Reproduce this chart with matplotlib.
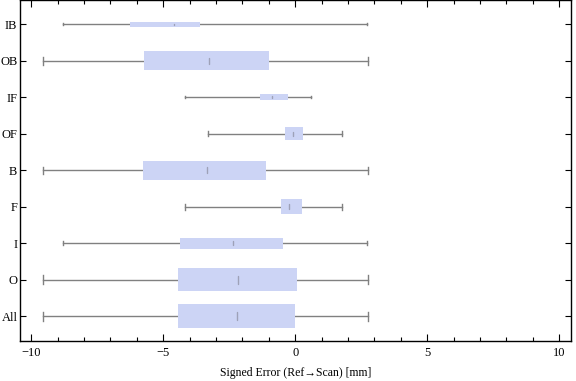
import matplotlib
matplotlib.use("Agg")
import matplotlib.pyplot as plt
from matplotlib.patches import Rectangle

plt.rcParams['font.family'] = ['Liberation Serif', 'DejaVu Serif']

categories = ["All", "O", "I", "F", "B", "OF", "IF", "OB", "IB"]
whisker_min = [-9.57, -9.57, -8.78, -4.19, -9.57, -3.31, -4.19, -9.57, -8.78]
q1 = [-4.43, -4.43, -4.36, -0.53, -5.76, -0.38, -1.33, -5.72, -6.25]
median = [-2.19, -2.16, -2.36, -0.24, -3.35, -0.09, -0.87, -3.25, -4.58]
q3 = [0.00, 0.08, -0.45, 0.27, -1.11, 0.30, -0.27, -1.00, -3.60]
whisker_max = [2.74, 2.74, 2.71, 1.78, 2.74, 1.78, 0.61, 2.74, 2.71]
# relative box widths (Mathematica scales these by sample size)
box_weight = [0.66, 0.63, 0.30, 0.41, 0.52, 0.36, 0.16, 0.52, 0.14]

xticks = [-10, -5, 0, 5, 10]

fig = plt.figure(figsize=(5.76, 3.81), dpi=100)
ax = fig.add_axes([0.035, 0.105, 0.956, 0.894])

box_color = (0.80, 0.83, 0.96)
line_color = (0.50, 0.50, 0.50)

for i, cat in enumerate(categories):
    y = i + 1
    h = box_weight[i]
    ax.plot([whisker_min[i], whisker_max[i]], [y, y], color=line_color, lw=1.0, zorder=1)
    cap = h * 0.38
    for xv in (whisker_min[i], whisker_max[i]):
        ax.plot([xv, xv], [y - cap / 2, y + cap / 2], color=line_color, lw=1.0, zorder=1)
    ax.add_patch(Rectangle((q1[i], y - h / 2), q3[i] - q1[i], h,
                           facecolor=box_color, edgecolor='none', zorder=2))
    mh = h * 0.33
    ax.plot([median[i], median[i]], [y - mh / 2, y + mh / 2], color=(0.62, 0.63, 0.72),
            lw=1.0, zorder=3, solid_capstyle='round')

ax.set_xlim(-10.42, 10.44)
ax.set_ylim(0.32, 9.66)
ax.set_xticks(xticks)
ax.set_xticklabels([("\u2212" + str(abs(t))) if t < 0 else str(t) for t in xticks])
ax.set_xticks([v for v in range(-10, 11) if v % 5 != 0], minor=True)
ax.set_yticks(range(1, len(categories) + 1))
ax.set_yticklabels(categories)

ax.tick_params(axis='both', which='major', direction='in', length=5, width=0.8,
               top=True, right=True, labelsize=9, pad=4)
ax.tick_params(axis='x', which='minor', direction='in', length=3, width=0.8, top=True)
ax.tick_params(axis='y', which='major', length=4, pad=2)
for s in ax.spines.values():
    s.set_linewidth(1.0)

ax.set_xlabel("Signed Error (Ref\u2192Scan) [mm]", fontsize=8.5, labelpad=6)

fig.savefig("out.png", dpi=100)
